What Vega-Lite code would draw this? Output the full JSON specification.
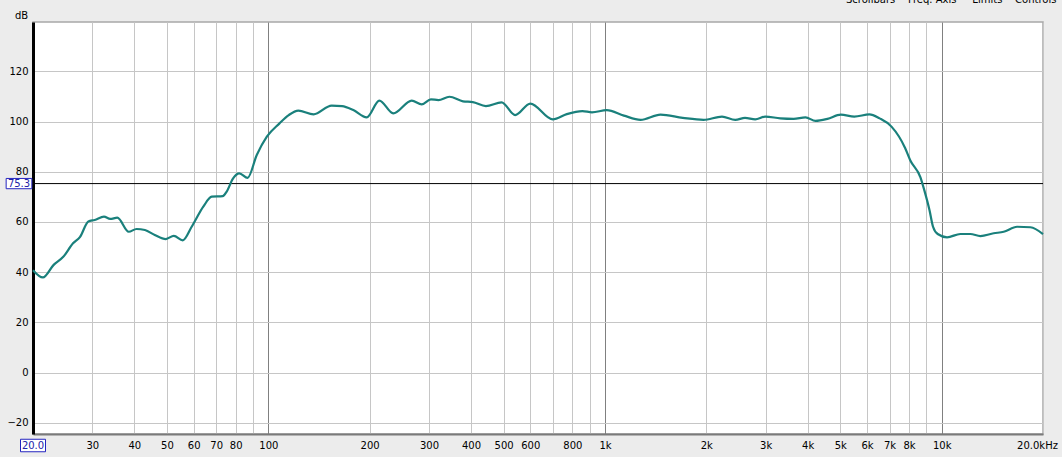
{
  "$schema": "https://vega.github.io/schema/vega-lite/v6.json",
  "width": 1010,
  "height": 412,
  "autosize": {"type": "none"},
  "padding": {"left": 33, "top": 22, "right": 19, "bottom": 23},
  "background": "#ececec",
  "config": {
    "font": "DejaVu Sans",
    "view": {"fill": "white", "stroke": "#a8a8a8", "strokeWidth": 1.5}
  },
  "title": {
    "text": "Scrollbars\u00a0\u00a0\u00a0\u00a0Freq. Axis\u00a0\u00a0\u00a0\u00a0\u00a0Limits\u00a0\u00a0\u00a0\u00a0Controls",
    "anchor": "start",
    "frame": "group",
    "orient": "top",
    "dx": 813,
    "dy": 7.5,
    "baseline": "alphabetic",
    "font": "DejaVu Sans",
    "fontSize": 10,
    "fontWeight": "normal",
    "color": "#000000",
    "offset": 5
  },
  "datasets": {
    "response": [
      {"freq": 20, "db": 40.8},
      {"freq": 21.4, "db": 37.9},
      {"freq": 23.0, "db": 42.8},
      {"freq": 24.6, "db": 46.1},
      {"freq": 26.3, "db": 51.5},
      {"freq": 27.6, "db": 54.1},
      {"freq": 29.2, "db": 60.2},
      {"freq": 30.5, "db": 60.8},
      {"freq": 32.5, "db": 62.1},
      {"freq": 33.9, "db": 61.2},
      {"freq": 35.6, "db": 61.7},
      {"freq": 38.5, "db": 56.1},
      {"freq": 40.6, "db": 57.2},
      {"freq": 43.0, "db": 56.8},
      {"freq": 46.0, "db": 54.8},
      {"freq": 49.6, "db": 53.2},
      {"freq": 52.4, "db": 54.5},
      {"freq": 55.7, "db": 52.7},
      {"freq": 59.2, "db": 58.1},
      {"freq": 64.1, "db": 66.1},
      {"freq": 67.9, "db": 70.1},
      {"freq": 73.2, "db": 70.3},
      {"freq": 75.2, "db": 72.1},
      {"freq": 78.6, "db": 77.4},
      {"freq": 82.0, "db": 79.4},
      {"freq": 86.8, "db": 77.6},
      {"freq": 92.4, "db": 86.7},
      {"freq": 99.0, "db": 94.0},
      {"freq": 107.8, "db": 99.2},
      {"freq": 115, "db": 102.6},
      {"freq": 122.8, "db": 104.4},
      {"freq": 136.3, "db": 102.9},
      {"freq": 154.2, "db": 106.4},
      {"freq": 165.6, "db": 106.2},
      {"freq": 178.9, "db": 104.6},
      {"freq": 196, "db": 101.7},
      {"freq": 213.7, "db": 108.4},
      {"freq": 235, "db": 103.3},
      {"freq": 266.6, "db": 108.4},
      {"freq": 285.6, "db": 106.9},
      {"freq": 304, "db": 108.9},
      {"freq": 320, "db": 108.6},
      {"freq": 345, "db": 109.9},
      {"freq": 378.6, "db": 108.1},
      {"freq": 405, "db": 107.8},
      {"freq": 443, "db": 106.2},
      {"freq": 493, "db": 107.7},
      {"freq": 541, "db": 102.6},
      {"freq": 600, "db": 107.2},
      {"freq": 700, "db": 100.9},
      {"freq": 770, "db": 103.0},
      {"freq": 857, "db": 104.2},
      {"freq": 915, "db": 103.7},
      {"freq": 1012, "db": 104.6},
      {"freq": 1138, "db": 102.4},
      {"freq": 1275, "db": 100.7},
      {"freq": 1462, "db": 102.8},
      {"freq": 1702, "db": 101.5},
      {"freq": 1962, "db": 100.7},
      {"freq": 2226, "db": 102.0},
      {"freq": 2438, "db": 100.7},
      {"freq": 2606, "db": 101.5},
      {"freq": 2794, "db": 100.9},
      {"freq": 2992, "db": 102.0},
      {"freq": 3318, "db": 101.3},
      {"freq": 3634, "db": 101.1},
      {"freq": 3940, "db": 101.7},
      {"freq": 4220, "db": 100.3},
      {"freq": 4578, "db": 101.1},
      {"freq": 5018, "db": 102.8},
      {"freq": 5504, "db": 102.0},
      {"freq": 6104, "db": 102.9},
      {"freq": 6540, "db": 101.3},
      {"freq": 7096, "db": 98.0},
      {"freq": 7788, "db": 89.5},
      {"freq": 8072, "db": 84.5},
      {"freq": 8650, "db": 77.8},
      {"freq": 8880, "db": 72.7},
      {"freq": 9200, "db": 64.8},
      {"freq": 9428, "db": 58.1},
      {"freq": 9732, "db": 55.2},
      {"freq": 10376, "db": 53.9},
      {"freq": 11364, "db": 55.2},
      {"freq": 12168, "db": 55.2},
      {"freq": 13032, "db": 54.4},
      {"freq": 14276, "db": 55.5},
      {"freq": 15284, "db": 56.1},
      {"freq": 16750, "db": 58.1},
      {"freq": 18352, "db": 57.9},
      {"freq": 20000, "db": 55.2}
    ],
    "cursor": [
      {"freq": 20, "db": 75.3}
    ]
  },
  "encoding": {
    "x": {
      "field": "freq",
      "type": "quantitative",
      "scale": {"type": "log", "domain": [20, 20000], "nice": false},
      "axis": {
        "title": null,
        "values": [30, 40, 50, 60, 70, 80, 90, 100, 200, 300, 400, 500, 600, 700, 800, 900, 1000, 2000, 3000, 4000, 5000, 6000, 7000, 8000, 9000, 10000, 20000],
        "labelExpr": "datum.value == 20000 ? '20.0kHz' : (datum.value == 90 || datum.value == 700 || datum.value == 900 || datum.value == 9000) ? '' : datum.value >= 1000 ? (datum.value / 1000) + 'k' : datum.value + ''",
        "grid": true,
        "gridColor": {"condition": {"test": "datum.value == 100 || datum.value == 1000 || datum.value == 10000", "value": "#808080"}, "value": "#c6c6c6"},
        "gridWidth": 1,
        "ticks": false,
        "tickSize": 0,
        "labelPadding": 6,
        "labelFont": "DejaVu Sans",
        "labelFontSize": 10,
        "labelColor": "#000000",
        "labelOverlap": false,
        "labelFlush": false,
        "labelBound": false,
        "labelOffset": {"condition": {"test": "datum.value == 20000", "value": -6}, "value": 0},
        "domainColor": "#7a7a7a",
        "domainWidth": 2
      }
    },
    "y": {
      "field": "db",
      "type": "quantitative",
      "scale": {"domain": [-24.5, 139.7], "nice": false, "zero": false},
      "axis": {
        "title": "dB",
        "titleAngle": 0,
        "titleAlign": "center",
        "titleBaseline": "alphabetic",
        "titleX": -12,
        "titleY": -4,
        "titleFont": "DejaVu Sans",
        "titleFontSize": 10,
        "titleFontWeight": "normal",
        "titleColor": "#000000",
        "values": [-20, 0, 20, 40, 60, 80, 100, 120],
        "grid": true,
        "gridColor": "#c6c6c6",
        "ticks": false,
        "tickSize": 0,
        "labelPadding": 5,
        "labelFont": "DejaVu Sans",
        "labelFontSize": 10,
        "labelColor": "#000000",
        "domainColor": "#000000",
        "domainWidth": 3
      }
    }
  },
  "layer": [
    {
      "data": {"name": "cursor"},
      "mark": {"type": "rule", "color": "#000000", "strokeWidth": 1},
      "encoding": {"x": null, "y": {"field": "db", "type": "quantitative"}}
    },
    {
      "data": {"name": "response"},
      "mark": {"type": "line", "color": "#1a807c", "strokeWidth": 2.2, "interpolate": "monotone"}
    },
    {
      "data": {"name": "cursor"},
      "mark": {"type": "point", "shape": "M-1,-0.4H1V0.4H-1Z", "size": 660, "filled": true, "fill": "white", "stroke": "#2424c0", "strokeWidth": 1, "opacity": 1, "xOffset": -14}
    },
    {
      "data": {"name": "cursor"},
      "mark": {"type": "text", "color": "#2222a8", "font": "DejaVu Sans", "fontSize": 10, "align": "center", "baseline": "middle", "xOffset": -14},
      "encoding": {"text": {"field": "db", "type": "quantitative", "format": ".1f"}}
    },
    {
      "data": {"name": "cursor"},
      "mark": {"type": "point", "shape": "M-1,-0.5H1V0.5H-1Z", "size": 625, "filled": true, "fill": "white", "stroke": "#2424c0", "strokeWidth": 1, "opacity": 1, "y": "height", "yOffset": 11.5},
      "encoding": {"y": null}
    },
    {
      "data": {"name": "cursor"},
      "mark": {"type": "text", "color": "#2222a8", "font": "DejaVu Sans", "fontSize": 10, "align": "center", "baseline": "middle", "y": "height", "yOffset": 11.5},
      "encoding": {"y": null, "text": {"field": "freq", "type": "quantitative", "format": ".1f"}}
    }
  ]
}
